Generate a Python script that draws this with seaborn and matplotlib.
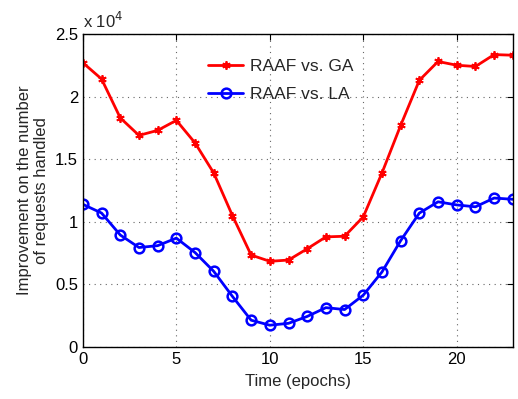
import numpy as np
import pandas as pd
import matplotlib
matplotlib.use('Agg')
import matplotlib.pyplot as plt
import seaborn as sns

# --- data ---
epochs = list(range(24))
raaf_vs_ga = [22700, 21400, 18300, 16900, 17300, 18100, 16300, 13900, 10500, 7350,
              6850, 6950, 7850, 8800, 8850, 10400, 13900, 17700, 21300, 22800,
              22500, 22400, 23350, 23300]
raaf_vs_la = [11400, 10700, 8950, 7950, 8100, 8700, 7550, 6050, 4050, 2150,
              1750, 1900, 2450, 3150, 3000, 4150, 6000, 8500, 10700, 11600,
              11350, 11200, 11900, 11800]
series_names = ['RAAF vs. GA', 'RAAF vs. LA']
y_ticks = [0, 5000, 10000, 15000, 20000, 25000]
y_tick_labels = ['0', '0.5', '1', '1.5', '2', '2.5']
x_ticks = [0, 5, 10, 15, 20]

df = pd.concat([
    pd.DataFrame({'epoch': epochs, 'value': raaf_vs_ga, 'series': series_names[0]}),
    pd.DataFrame({'epoch': epochs, 'value': raaf_vs_la, 'series': series_names[1]}),
])

sns.set_style('white')
plt.rcParams['font.family'] = ['Liberation Sans', 'DejaVu Sans']

fig = plt.figure(figsize=(5.18, 3.99), dpi=100)
ax = fig.add_axes([0.16, 0.13, 0.83, 0.785])

styles = {
    series_names[0]: dict(color='#ff0000', marker=(6, 2, 0), markersize=6, mew=1.3),
    series_names[1]: dict(color='#0000ff', marker='o', markersize=7, mew=1.8,
                          markerfacecolor='none'),
}
for name in series_names:
    sub = df[df['series'] == name]
    st = styles[name]
    sns.lineplot(data=sub, x='epoch', y='value', ax=ax, label=name,
                 color=st['color'], linewidth=2, marker=st['marker'],
                 markersize=st['markersize'], markeredgewidth=st['mew'],
                 markeredgecolor=st['color'],
                 markerfacecolor=st.get('markerfacecolor', st['color']))

ax.set_xlim(0, 23)
ax.set_ylim(0, 25000)
ax.set_xticks(x_ticks)
ax.set_yticks(y_ticks)
ax.set_yticklabels(y_tick_labels)
ax.tick_params(direction='in', labelsize=12, length=4, top=True, right=True,
               colors='black')
ax.grid(True, linestyle=(0, (1, 4)), color='#666666', linewidth=0.8)
for s in ax.spines.values():
    s.set_color('black')
    s.set_linewidth(1)

ax.set_xlabel('Time (epochs)', fontsize=12, labelpad=5)
ax.set_ylabel('Improvement on the number\nof requests handled', fontsize=12)
ax.text(0.0, 1.01, r'x 10$^4$', transform=ax.transAxes, fontsize=12,
        va='bottom', ha='left')

leg = ax.legend(loc='upper left', bbox_to_anchor=(0.255, 0.97), frameon=False,
                fontsize=12.5, handlelength=2.0, handletextpad=0.4,
                labelspacing=0.75)

plt.savefig('out.png', dpi=100)
